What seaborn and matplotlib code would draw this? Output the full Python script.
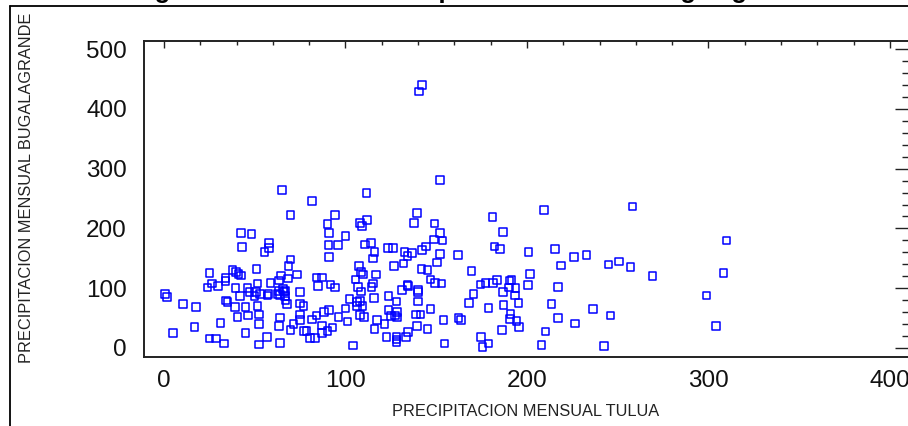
import numpy as np
import pandas as pd
import matplotlib
matplotlib.use("Agg")
import matplotlib.pyplot as plt
from matplotlib.lines import Line2D
from matplotlib.ticker import MultipleLocator
import seaborn as sns

# Monthly precipitation: Tulua (x) vs Bugalagrande (y)
tulua = [
    65, 81.4, 69.8, 94.2, 90, 91, 42.4, 48.3, 90.7, 96, 43, 58, 58, 55.4, 91, 69.6, 68.7,
    25, 37.8, 39.8, 41, 42.4, 51, 64.5, 73.3, 68.2, 33.8, 33.8, 26.6, 29.8, 23.9, 51.5,
    58.7, 63.2, 84, 87, 85, 91.8, 94.2, 39.5, 45.9, 47, 50.7, 41.9, 49.9, 52.9, 57.1,
    57.5, 62.5, 63.4, 65.4, 66.1, 67, 63.9, 66.8, 75, 0.7, 1.5, 10.6, 17.6, 34.3, 34.9,
    39.1, 44.8, 51.6, 67, 67.9, 75, 76.8, 40.6, 46.4, 52.3, 75, 63.9, 75.1, 84.1, 81.4,
    88.3, 91, 96.2, 31.2, 16.9, 52.3, 63.5, 71.4, 69.6, 87, 92.9, 77.1, 78.6, 87, 90,
    4.8, 44.8, 25, 28.7, 33.2, 52.3, 56.9, 63.9, 80.4, 83.2,
    108, 109, 112, 139.4, 137.7, 149.1, 152.1, 99.9, 110.9, 113.9, 148.8, 153.4,
    116, 115, 123.4, 126.2, 132.6, 134.1, 136.6, 142.3, 144.5, 152.1, 162,
    181, 186.8, 182, 185.1, 131.9, 126.7, 141.8, 145.1, 150.3, 169.5,
    107.3, 108.4, 109.7, 116.7, 105.6, 115.3, 114.4, 107, 108.7,
    146.9, 149.3, 152.8, 134.1, 134.6, 131.1, 139.9, 139.9,
    174.3, 177.1, 181.4, 183.5, 190.4, 191.5, 190.1, 193.6, 186.8, 193.4, 170.6, 167.9,
    187, 178.7, 195.4, 102.3, 99.9, 106.5, 108, 106.2, 109.3, 115.7, 123.8, 128.2, 139.8,
    101, 108, 110.2, 117.4, 123.6, 128.4, 125.1, 127.3, 128.4, 121.4, 116, 138.7, 141.3,
    139.4, 146.9, 153.9, 145.1, 162.2, 163.8,
    122.5, 128.2, 128.2, 128.2, 133.2, 134.6, 154.5, 104, 174.7, 175.4, 178.9, 186.2,
    190.9, 190.7, 194.2, 195.6,
    142.3, 140.5, 152, 111.5,
    209.5, 258.2, 200.9, 215.4, 225.9, 232.7, 218.7, 245, 250.7, 257.1, 269.2, 201.5,
    200.4, 217.1, 213.5, 236.4, 217.1, 246.1, 226.4, 210.2, 207.9, 242.6, 299, 304.1,
    310, 308.2,
]
bugalagrande = [
    264, 246, 222, 222, 207, 192, 192, 190.6, 172, 172, 169, 176, 166.7, 160, 151.6, 148, 137,
    125, 130, 127, 123.6, 120.8, 132, 120.8, 123, 115.8, 117, 112, 107.4, 103.5, 100.7, 107.4,
    109, 112.4, 118, 118, 103.5, 105.7, 100.7, 100.2, 100.2, 93, 93, 86.3, 86.3, 89.6, 87.3,
    89.6, 89.6, 95, 98, 94, 95, 88.4, 86.3, 93, 89.6, 84.6, 73.4, 68.3, 78.9, 76.7,
    68.3, 68.3, 70, 78.9, 73.4, 74.5, 70, 52, 54.4, 56, 56, 51, 46.6, 54.4, 47.7,
    59.5, 63.3, 52, 42, 34.8, 39.9, 36.5, 39.4, 29.8, 37, 33.7, 28.1, 28.1, 24.8, 28.1,
    24.3, 24.3, 15.3, 15.3, 6.9, 5.2, 17.6, 8.5, 15.9, 15.9,
    209.5, 204, 213.6, 225.8, 209.5, 208, 191.8, 186.8, 172.7, 176, 181.7, 179.4,
    160.5, 149.3, 167.2, 167.2, 160.5, 153.3, 158.8, 163.8, 169.4, 156.6, 155,
    218.6, 194, 169.4, 165.5, 141, 137, 132, 130.3, 143, 128.6,
    137, 126.5, 123, 123, 114.7, 107.4, 101.8, 102.3, 94.6,
    114.7, 109, 107.4, 105.2, 103.5, 96.8, 96.8, 93.5,
    105.7, 109, 109, 114, 113, 114, 100.7, 100.2, 93, 87.3, 89.6, 75.5,
    71.7, 66.7, 75.5, 81.7, 65.5, 76.7, 78.4, 69.5, 70, 82.9, 86.3, 77.2, 77.2,
    43.7, 55, 52, 47, 62.8, 59.5, 52.8, 53.8, 51, 39.9, 31.5, 56, 56,
    36.5, 65, 47, 31.5, 49.4, 47,
    17.6, 18.6, 13.6, 9.2, 17.6, 26, 6.9, 3.5, 18, 1.8, 6.9, 29.3,
    56.6, 48.7, 44.9, 35.3,
    440, 429, 281, 259,
    230.8, 236.4, 160.5, 165.5, 151.6, 155, 137.5, 139.2, 144.2, 135.3, 119.8, 123.1,
    105.2, 101.8, 73.4, 65, 49.4, 54.4, 40.4, 27.6, 4.7, 3, 87.9, 36.5,
    179.4, 124.8,
]
x_ticks = [0, 100, 200, 300, 400]
y_ticks = [0, 100, 200, 300, 400, 500]
title_text = "Diagrama Bivariado de Dispersion Tulua vs Bugalagrande"
x_label = "PRECIPITACION MENSUAL TULUA"
y_label = "PRECIPITACION MENSUAL BUGALAGRANDE"

df = pd.DataFrame({"tulua": tulua, "buga": bugalagrande})

sns.set_style("white")
plt.rcParams["font.family"] = ["Liberation Sans", "DejaVu Sans"]

W, H = 908, 426
fig = plt.figure(figsize=(W / 100, H / 100), dpi=100)
ax = fig.add_axes([143.5 / W, 1 - 356.5 / H, (909 - 143.5) / W, (356.5 - 40.5) / H])

sns.scatterplot(data=df, x="tulua", y="buga", ax=ax, marker="s", s=30,
                facecolor="none", edgecolor="#0000ff", linewidth=1.1, legend=False)

ax.set_xlim(-11.3, 410.5)
ax.set_ylim(-14.6, 514.7)
ax.set_xticks(x_ticks)
ax.set_yticks(y_ticks)
ax.xaxis.set_minor_locator(MultipleLocator(20))
ax.yaxis.set_minor_locator(MultipleLocator(20))

ax.tick_params(axis="both", which="both", direction="in", top=True, right=True,
               colors="#222222", width=1.0, labelcolor="#111111", labelsize=17.5)
ax.tick_params(axis="x", which="major", length=5.2, pad=10)
ax.tick_params(axis="x", which="minor", length=3.2)
ax.tick_params(axis="y", which="major", length=9.8, pad=12)
ax.tick_params(axis="y", which="minor", length=5.4)

for sp in ax.spines.values():
    sp.set_color("#222222")
    sp.set_linewidth(1.4)

ax.set_xlabel("")
ax.set_ylabel("")
fig.text(526 / W, 1 - 412 / H, x_label, ha="center", va="center", fontsize=11.8, color="#222222")
fig.text(27 / W, 1 - 188 / H, y_label, ha="center", va="center", rotation=90,
         fontsize=11.8, color="#222222")

# title (cut off at the top edge, as in the reference)
fig.text(115.5 / W, 1 + 1.5 / H, title_text, ha="left", va="baseline",
         fontsize=18.4, fontweight="bold", color="black")

# outer frame
fig.add_artist(Line2D([10 / W, 10 / W], [0, 1 - 6 / H], transform=fig.transFigure,
                      color="black", linewidth=1.3))
fig.add_artist(Line2D([10 / W, 1], [1 - 6 / H, 1 - 6 / H], transform=fig.transFigure,
                      color="black", linewidth=1.3))

fig.savefig("out.png", dpi=100)
